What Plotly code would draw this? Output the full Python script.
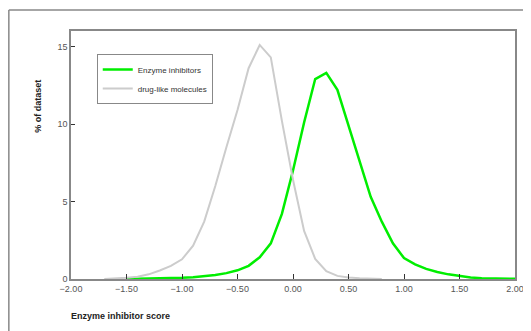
import plotly.graph_objects as go

# Enzyme inhibitors (green)
enz_x = [-1.5, -1.4, -1.3, -1.2, -1.1, -1.0, -0.9, -0.8, -0.7, -0.6, -0.5, -0.4, -0.3, -0.2, -0.1,
         0.0, 0.1, 0.2, 0.3, 0.4, 0.5, 0.6, 0.7, 0.8, 0.9, 1.0, 1.1, 1.2, 1.3, 1.4, 1.5, 1.6, 1.7,
         1.8, 1.9, 2.0]
enz_y = [0.0, 0.01, 0.02, 0.03, 0.05, 0.08, 0.12, 0.18, 0.26, 0.38, 0.56, 0.85, 1.4, 2.3, 4.2,
         7.0, 10.1, 12.9, 13.3, 12.2, 9.9, 7.6, 5.3, 3.7, 2.3, 1.35, 0.95, 0.65, 0.45, 0.3, 0.18,
         0.1, 0.05, 0.03, 0.02, 0.01]

# drug-like molecules (gray)
drug_x = [-1.7, -1.6, -1.5, -1.4, -1.3, -1.2, -1.1, -1.0, -0.9, -0.8, -0.7, -0.6, -0.5, -0.4,
          -0.3, -0.2, -0.1, 0.0, 0.1, 0.2, 0.3, 0.4, 0.5, 0.6, 0.7, 0.8]
drug_y = [0.0, 0.03, 0.08, 0.15, 0.3, 0.55, 0.85, 1.27, 2.15, 3.7, 6.0, 8.5, 10.9, 13.6,
          15.1, 14.3, 10.2, 6.4, 3.1, 1.3, 0.5, 0.2, 0.1, 0.05, 0.02, 0.0]

x_ticks = [-2.0, -1.5, -1.0, -0.5, 0.0, 0.5, 1.0, 1.5, 2.0]
y_ticks = [0, 5, 10, 15]

FONT = "Liberation Sans, Arial, sans-serif"

fig = go.Figure()
fig.add_trace(go.Scatter(x=enz_x, y=enz_y, mode="lines", name="Enzyme inhibitors",
                         line=dict(color="#00ee00", width=2.5)))
fig.add_trace(go.Scatter(x=drug_x, y=drug_y, mode="lines", name="drug-like molecules",
                         line=dict(color="#cccccc", width=2)))

axis_common = dict(showline=True, linecolor="#888888", linewidth=1.5, mirror=True,
                   showgrid=False, zeroline=False, ticks="inside", tickcolor="#333333",
                   tickfont=dict(family=FONT, size=9, color="#555555"))

fig.update_xaxes(range=[-2, 2], tickvals=x_ticks, tickformat=".2f", ticklen=5, **axis_common)
fig.update_yaxes(range=[0, 16], tickvals=y_ticks, ticklen=4, **axis_common)

fig.update_layout(
    width=523, height=323,
    margin=dict(l=63, r=16, t=23, b=52, autoexpand=False),
    paper_bgcolor="white", plot_bgcolor="white",
    font=dict(family=FONT, size=9, color="#333333"),
    legend=dict(x=0.058, y=0.907, xanchor="left", yanchor="top",
                bordercolor="#888888", borderwidth=1, bgcolor="white",
                font=dict(family=FONT, size=8, color="#333333"),
                tracegroupgap=0, itemwidth=30),
    annotations=[
        dict(text="<b>% of dataset</b>", textangle=-90, xref="paper", yref="paper",
             x=-0.092, y=0.81, showarrow=False, font=dict(family=FONT, size=9, color="#222222")),
        dict(text="<b>Enzyme inhibitor score</b>", xref="paper", yref="paper",
             x=-0.005, y=-0.15, xanchor="left", yanchor="middle", showarrow=False,
             font=dict(family=FONT, size=9, color="#222222")),
    ],
    shapes=[
        dict(type="line", xref="paper", yref="paper", x0=-0.140, x1=-0.140, y0=1.085, y1=-0.3,
             line=dict(color="#888888", width=1.5)),
        dict(type="line", xref="paper", yref="paper", x0=-0.140, x1=1.1, y0=1.085, y1=1.085,
             line=dict(color="#888888", width=1.5)),
    ],
)

fig.write_html("out.html")
